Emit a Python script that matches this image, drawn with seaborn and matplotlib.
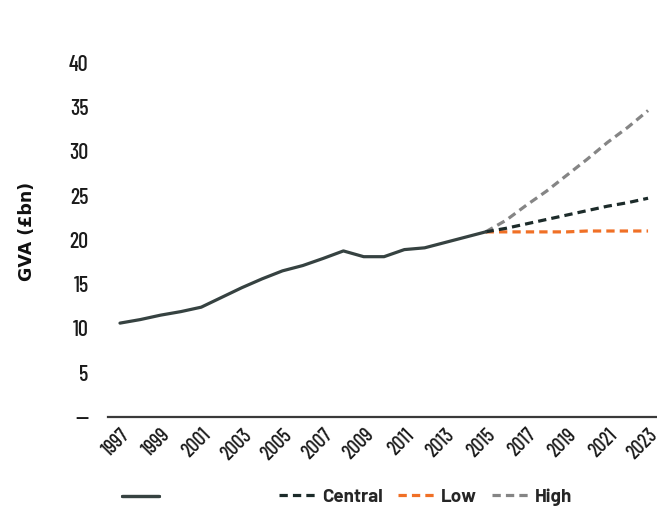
import matplotlib
matplotlib.use("Agg")
import matplotlib.pyplot as plt
from matplotlib.lines import Line2D
import seaborn as sns
import pandas as pd

# Historical GVA (£bn)
hist_years = list(range(1997, 2016))
hist_values = [10.6, 11.0, 11.5, 11.9, 12.4, 13.5, 14.6, 15.6, 16.5, 17.1,
               17.9, 18.75, 18.1, 18.1, 18.9, 19.1, 19.7, 20.3, 20.9]

# Projection scenarios
proj_years = list(range(2015, 2024))
central_values = [20.9, 21.3, 21.8, 22.3, 22.8, 23.3, 23.8, 24.2, 24.7]
low_values = [20.9, 20.9, 20.9, 20.9, 20.9, 21.0, 21.0, 21.0, 21.0]
high_values = [20.9, 22.2, 23.9, 25.5, 27.3, 29.1, 31.0, 32.7, 34.6]

tick_years = list(range(1997, 2024, 2))
y_ticks = [0, 5, 10, 15, 20, 25, 30, 35, 40]
y_tick_labels = ["—", "5", "10", "15", "20", "25", "30", "35", "40"]

c_hist = "#364241"
c_central = "#1c2b2a"
c_low = "#f07026"
c_high = "#858585"

sns.set_theme(style="white")
plt.rcParams["font.family"] = ["Barlow", "DejaVu Sans"]
tick_family = ["Barlow Condensed", "DejaVu Sans"]

fig = plt.figure(figsize=(6.57, 5.08), dpi=100)
ax = fig.add_axes([108 / 657, 1 - 417 / 508, 1 - 108 / 657, (417 - 45) / 508])

hist_df = pd.DataFrame({"year": hist_years, "gva": hist_values})
proj_df = pd.DataFrame({"year": proj_years, "central": central_values,
                        "low": low_values, "high": high_values})

lw = 2.3
dash = (2.6, 1.6)
sns.lineplot(data=proj_df, x="year", y="low", ax=ax, color=c_low, lw=lw,
             legend=False).lines[-1].set_dashes(dash)
sns.lineplot(data=proj_df, x="year", y="high", ax=ax, color=c_high, lw=lw,
             legend=False).lines[-1].set_dashes(dash)
sns.lineplot(data=proj_df, x="year", y="central", ax=ax, color=c_central, lw=lw,
             legend=False).lines[-1].set_dashes(dash)
sns.lineplot(data=hist_df, x="year", y="gva", ax=ax, color=c_hist, lw=lw,
             legend=False)

ax.set_xlim(1996.41, 2023.44)
ax.set_ylim(0, 42)

for s in ["left", "right", "top"]:
    ax.spines[s].set_visible(False)
ax.spines["bottom"].set_color("#3a3a3a")
ax.spines["bottom"].set_linewidth(1.6)

ax.set_yticks(y_ticks)
ax.set_yticklabels(y_tick_labels, family=tick_family, fontsize=16,
                   fontweight=500, color="#1a1a1a")
ax.set_xticks(tick_years)
ax.set_xticklabels([str(y) for y in tick_years], rotation=45, ha="right",
                   rotation_mode="anchor", family=tick_family,
                   fontsize=14.5, fontweight=500, color="#1a1a1a")
ax.tick_params(axis="y", length=0, pad=14)
ax.tick_params(axis="x", length=0, pad=6)

ax.set_xlabel("")
ax.set_ylabel("GVA (£bn)", fontsize=12.5, fontweight="bold", color="#111111",
              family=["DejaVu Sans"])
ax.yaxis.set_label_coords(-72 / 549, 0.5)

# Legend: historical line on its own, scenarios grouped to the right
h_hist = [Line2D([0], [0], color=c_hist, lw=lw)]
leg1 = fig.legend(h_hist, [""], loc="center left",
                  bbox_to_anchor=(106 / 657, 1 - 497 / 508), frameon=False,
                  handlelength=2.05, fontsize=13)
h_proj = [Line2D([0], [0], color=c, lw=lw, dashes=dash)
          for c in (c_central, c_low, c_high)]
fig.legend(h_proj, ["Central", "Low", "High"], loc="center left",
           bbox_to_anchor=(262 / 657, 1 - 497 / 508), ncol=3, frameon=False,
           handlelength=2.0, handletextpad=0.3, columnspacing=0.8,
           prop={"weight": "bold", "size": 13.5})
fig.add_artist(leg1)

fig.savefig("out.png", dpi=100)
